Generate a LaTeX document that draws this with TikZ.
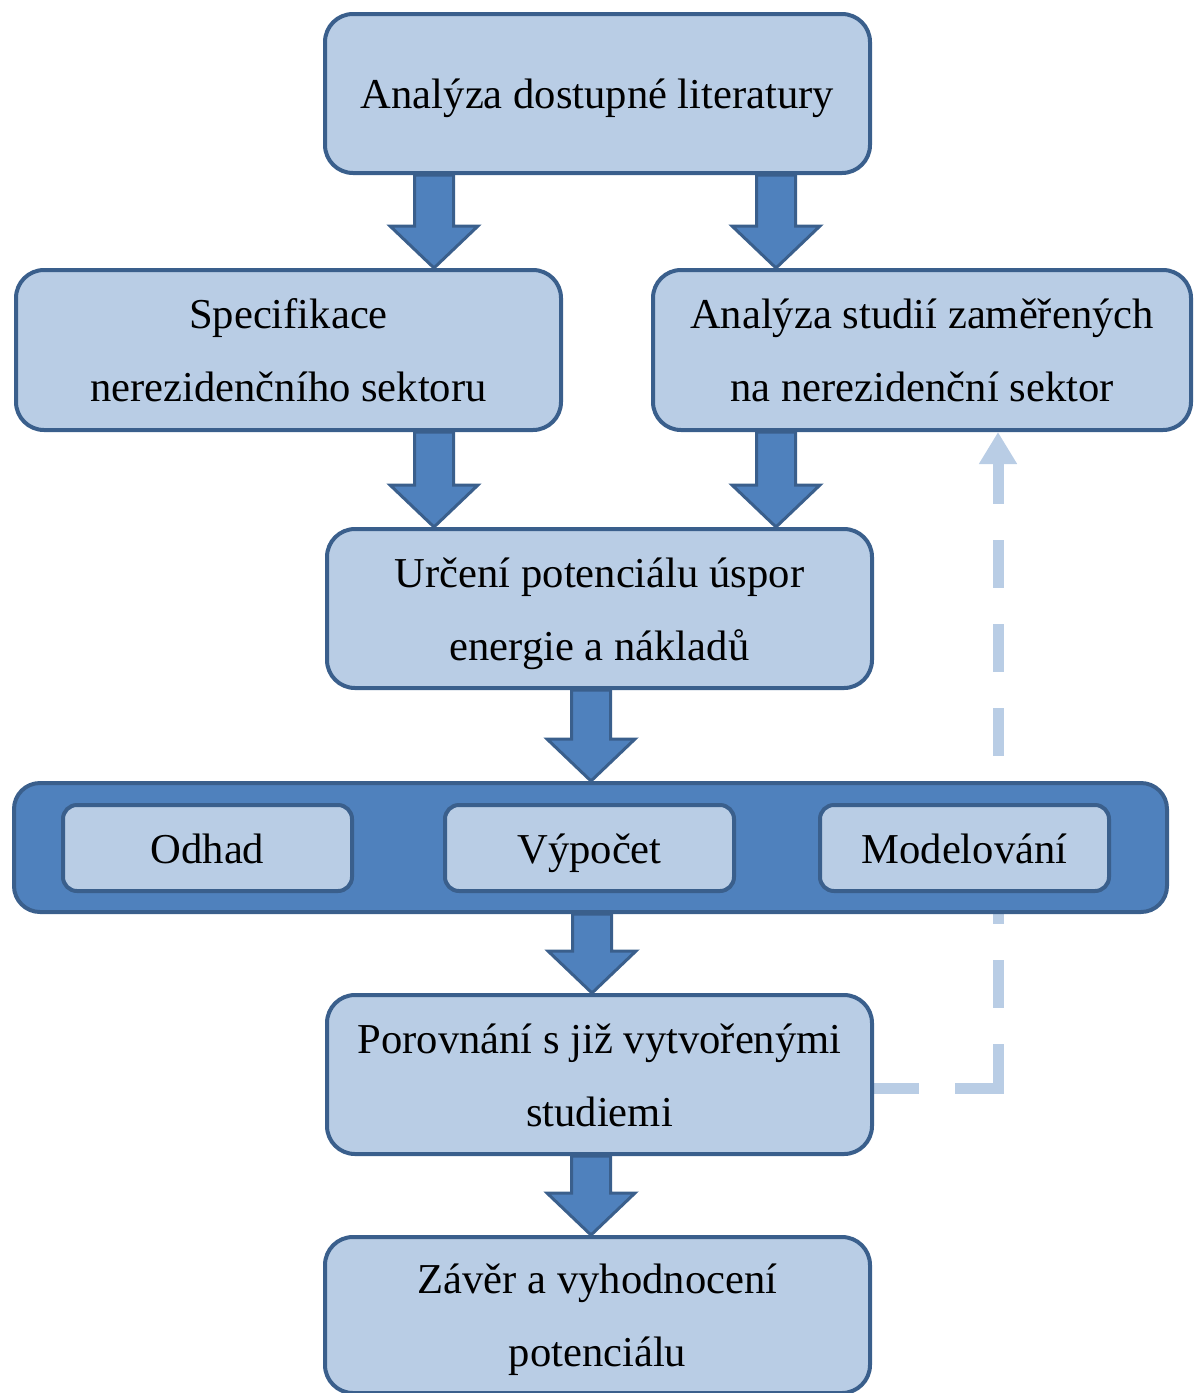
\documentclass[tikz,border=0pt]{standalone}
\usepackage{fontspec}
\setmainfont{Liberation Serif}
\usetikzlibrary{arrows.meta,calc,backgrounds}
\definecolor{lightfill}{HTML}{B9CDE5}
\definecolor{edgeblue}{HTML}{3A5F8C}
\definecolor{midblue}{HTML}{4F81BD}
\newcommand\blockarrow[3]{%
  \draw[barrow] let \p1=(#2), \p2=(#3) in
    (#1pt-19.5pt,\y1) -- (#1pt-19.5pt,\y2+42pt) -- (#1pt-44pt,\y2+42pt) --
    (#1pt,\y2) -- (#1pt+44pt,\y2+42pt) -- (#1pt+19.5pt,\y2+42pt) --
    (#1pt+19.5pt,\y1) -- cycle;}
\begin{document}
\begin{tikzpicture}[x=1pt,y=-1pt,
  txt/.style={font=\fontsize{42.6}{73}\selectfont, align=center, text=black,
    text height=30pt, text depth=0pt},
  twoline/.style={text height=103pt, text depth=0pt},
  box/.style={txt, draw=edgeblue, fill=lightfill, line width=4pt,
    rounded corners=28pt, inner sep=0pt, minimum width=545pt, minimum height=159pt},
  smallbox/.style={txt, draw=edgeblue, fill=lightfill, line width=4pt,
    rounded corners=14pt, inner sep=0pt, minimum width=289pt, minimum height=86pt},
  band/.style={draw=edgeblue, fill=midblue, line width=4pt, rounded corners=26pt,
    inner sep=0pt, minimum width=1153pt, minimum height=129pt},
  barrow/.style={draw=edgeblue, fill=midblue, line width=3pt, line join=miter},
  dashv/.style={draw=lightfill, line width=11pt, dash pattern=on 48pt off 36pt,
    dash phase=6pt, {Triangle[width=36pt,length=32pt]}-},
  dashh/.style={draw=lightfill, line width=11pt, dash pattern=on 45pt off 36pt on 300pt off 10pt}
]
\useasboundingbox (0,0) rectangle (1195,1393);

\node[box] (top) at (597.5,93.5) {Analýza dostupné literatury};
\node[box, twoline, minimum height=160pt] (left) at (288.5,350) {Specifikace\\nerezidenčního sektoru};
\node[box, twoline, minimum width=538pt, minimum height=160pt] (right) at (922,350) {Analýza studií zaměřených\\na nerezidenční sektor};
\node[box, twoline] (mid) at (599.5,608.5) {Určení potenciálu úspor\\energie a nákladů};
\node[band] (band) at (590.5,847.5) {};
\node[smallbox] (odhad) at (207.5,848) {Odhad};
\node[smallbox] (vypocet) at (589.5,848) {Výpočet};
\node[smallbox] (model) at (964.5,848) {Modelování};
\node[box, twoline] (por) at (599.5,1074.5) {Porovnání s již vytvořenými\\studiemi};
\node[box, twoline, minimum height=156pt] (zaver) at (597.5,1315) {Závěr a vyhodnocení\\potenciálu};

\coordinate (dcol) at (998,0);
\coordinate (corner) at (998,1093.5);
\coordinate (cornerh) at (1003.5,1088);
\begin{scope}[on background layer]
  \draw[dashv] (dcol |- right.south) -- (corner);
  \draw[dashh] (por.east |- cornerh) -- (cornerh);
\end{scope}

\blockarrow{434}{top.south}{left.north}
\blockarrow{776}{top.south}{right.north}
\blockarrow{434}{left.south}{mid.north}
\blockarrow{776}{right.south}{mid.north}
\blockarrow{591}{mid.south}{band.north}
\blockarrow{592}{band.south}{por.north}
\blockarrow{591}{por.south}{zaver.north}
\end{tikzpicture}
\end{document}
